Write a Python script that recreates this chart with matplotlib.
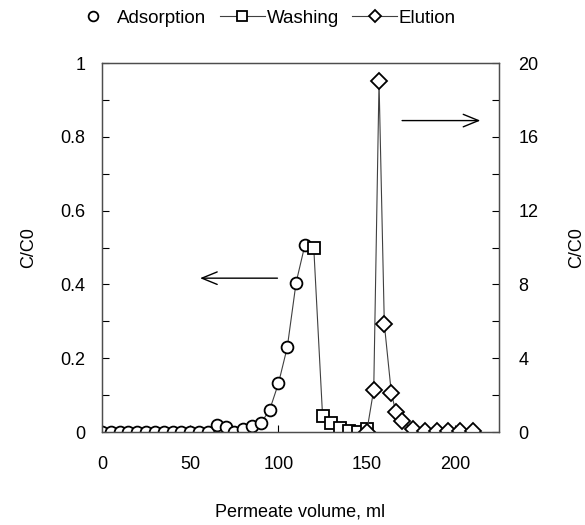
import numpy as np
import matplotlib.pyplot as plt
from matplotlib.lines import Line2D

plt.rcParams['font.family'] = ['Liberation Sans', 'DejaVu Sans']

# adsorption step (left axis, C/C0)
ads_vol = [0, 5, 10, 15, 20, 25, 30, 35, 40, 45, 50, 55, 60,
           65, 70, 75, 80, 85, 90, 95, 100, 105, 110, 115]
ads_c = [0, 0, 0, 0, 0, 0, 0, 0, 0, 0, 0, 0, 0,
         0.019, 0.013, 0.0, 0.007, 0.016, 0.024, 0.06, 0.132, 0.23, 0.405, 0.507]

# washing step (left axis)
wash_vol = [120, 125, 130, 135, 140, 145, 150]
wash_c = [0.50, 0.044, 0.024, 0.012, 0.003, 0.0, 0.008]

# elution step (right axis)
elu_vol = [150, 154, 157, 160, 164, 166.5, 170, 176, 183, 190, 196, 203, 210]
elu_c = [0.0, 2.3, 19.0, 5.85, 2.1, 1.1, 0.6, 0.15, 0.05, 0.05, 0.05, 0.05, 0.05]

fig = plt.figure(figsize=(5.85, 5.25), dpi=100)
ax = fig.add_axes([0.1744, 0.177, 0.6786, 0.703])
ax2 = ax.twinx()

mk = dict(mfc='white', mec='black', mew=1.3, color='0.25', lw=0.8)
ax.plot(ads_vol, ads_c, marker='o', ms=8.5, **mk)
ax.plot(wash_vol, wash_c, marker='s', ms=8.5, **mk)
ax2.plot(elu_vol, elu_c, marker='D', ms=8.2, **mk)

ax.set_xlim(0, 225)
ax.set_ylim(0, 1)
ax2.set_ylim(0, 20)

ax.set_xticks([0, 50, 100, 150, 200])
ax.set_yticks([0, 0.2, 0.4, 0.6, 0.8, 1.0])
ax.set_yticklabels(['0', '0.2', '0.4', '0.6', '0.8', '1'])
ax.set_yticks(np.arange(0.1, 1.0, 0.2), minor=True)
ax2.set_yticks([0, 4, 8, 12, 16, 20])
ax2.set_yticks([2, 6, 10, 14, 18], minor=True)

for a in (ax, ax2):
    a.tick_params(which='both', direction='in', length=5, width=0.8,
                  labelsize=13)
    for s in a.spines.values():
        s.set_color('0.3')
        s.set_linewidth(0.9)
ax.tick_params(axis='x', pad=17)
ax.tick_params(axis='y', pad=12)
ax2.tick_params(axis='y', pad=14)

ax.set_xlabel('Permeate volume, ml', fontsize=13, va='center')
ax.xaxis.set_label_coords(0.5, -0.217)
ax.set_ylabel('C/C0', fontsize=13, va='center')
ax.yaxis.set_label_coords(-0.186, 0.5)
ax2.set_ylabel('C/C0', fontsize=13, va='center')
ax2.yaxis.set_label_coords(1.195, 0.5)

# arrows showing which axis each peak belongs to
ax.annotate('', xy=(54, 0.417), xytext=(101, 0.417),
            arrowprops=dict(arrowstyle='->,head_length=1.1,head_width=0.45',
                            lw=1.0, color='black'))
ax.annotate('', xy=(216, 0.844), xytext=(168.5, 0.844),
            arrowprops=dict(arrowstyle='->,head_length=1.1,head_width=0.45',
                            lw=1.0, color='black'))

handles = [
    Line2D([], [], ls='none', marker='o', ms=7, mfc='white', mec='black', mew=1.3),
    Line2D([], [], color='0.25', lw=0.8, marker='s', ms=7, mfc='white', mec='black', mew=1.3),
    Line2D([], [], color='0.25', lw=0.8, marker='D', ms=6, mfc='white', mec='black', mew=1.3),
]
fig.legend(handles, ['Adsorption', 'Washing', 'Elution'], loc='center',
           bbox_to_anchor=(0.45, 0.965), ncol=3, frameon=False, fontsize=13.5,
           handlelength=2.4, handletextpad=0.1, columnspacing=0.7)

fig.savefig('out.png', dpi=100)
